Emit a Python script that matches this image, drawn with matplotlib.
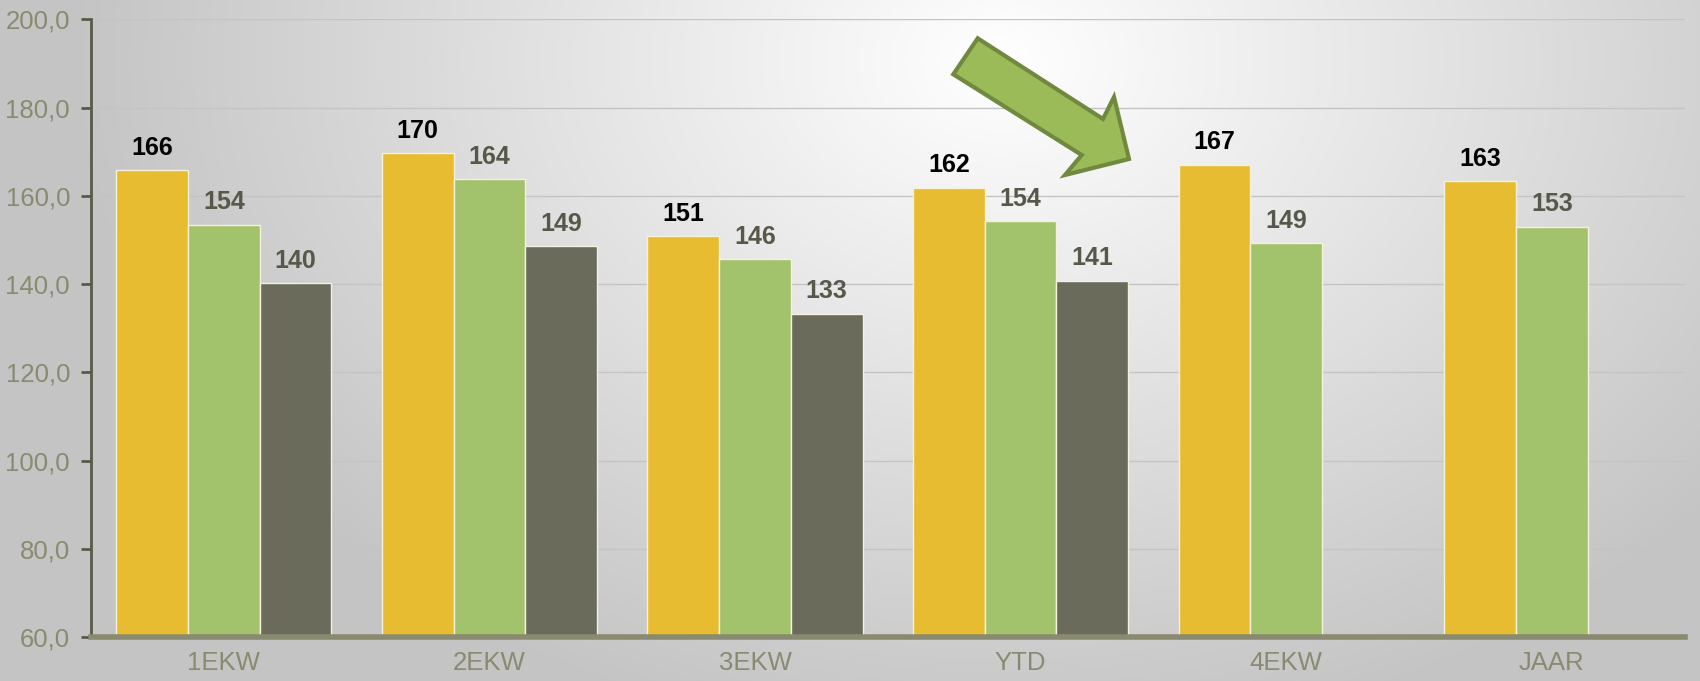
import numpy as np
import matplotlib.pyplot as plt
from matplotlib.patches import Polygon

plt.rcParams['font.family'] = ['Liberation Sans', 'DejaVu Sans']

categories = ['1EKW', '2EKW', '3EKW', 'YTD', '4EKW', 'JAAR']
series_a = [165.8, 169.7, 150.8, 161.9, 167.0, 163.3]
series_b = [153.5, 163.8, 145.6, 154.2, 149.3, 153.0]
series_c = [140.2, 148.6, 133.3, 140.7, None, None]
yticks = [60, 80, 100, 120, 140, 160, 180, 200]
ytick_labels = ['60,0', '80,0', '100,0', '120,0', '140,0', '160,0', '180,0', '200,0']

colors = ['#E8BC30', '#A3C26C', '#6B6B5C']
label_colors = ['#000000', '#58584A', '#58584A']

fig = plt.figure(figsize=(17, 6.81), dpi=100)

# radial gradient background
bg = fig.add_axes([0, 0, 1, 1], zorder=-10)
yy, xx = np.mgrid[0:681, 0:1700]
r = np.sqrt(((xx - 1000) / 1050.0) ** 2 + ((yy - 60) / 780.0) ** 2)
val = np.clip(1.0 - 0.26 * r, 0.77, 1.0)
bg.imshow(np.dstack([val, val, val]), aspect='auto', extent=[0, 1, 0, 1])
bg.axis('off')

ax = fig.add_axes([0.0535, 0.0646, 0.9375, 0.9068])
ax.set_facecolor('none')

x = np.arange(len(categories))
w = 0.27
for i, (vals, col, lc) in enumerate(zip([series_a, series_b, series_c], colors, label_colors)):
    for xi, v in zip(x, vals):
        if v is None:
            continue
        xp = xi + (i - 1) * w
        ax.bar(xp, v - 60, bottom=60, width=w, color=col, edgecolor='#F4F1DC',
               linewidth=1.0, zorder=3)
        ax.text(xp, v + 2.4, str(int(round(v))), ha='center', va='bottom',
                fontsize=18, fontweight='bold', color=lc, zorder=4)

ax.set_xlim(-0.5, 5.5)
ax.set_ylim(60, 200)
ax.set_yticks(yticks)
ax.set_yticklabels(ytick_labels)
ax.set_xticks(x)
ax.set_xticklabels(categories)
ax.tick_params(axis='y', colors='#5A5A48', labelcolor='#8A8A70', labelsize=18.5,
               length=7, width=2, direction='out', pad=8)
ax.tick_params(axis='x', length=0, labelcolor='#8A8A70', labelsize=18.5, pad=10)
ax.grid(axis='y', color='#C4C4C4', linewidth=1.0, zorder=0)
for s in ['top', 'right']:
    ax.spines[s].set_visible(False)
ax.spines['left'].set_color('#5A5A48')
ax.spines['left'].set_linewidth(2)
ax.spines['bottom'].set_color('#8A8A70')
ax.spines['bottom'].set_linewidth(4)
ax.spines['bottom'].set_zorder(5)

# green arrow shape (figure pixel coords converted to fractions)
arrow_px = [(977.7, 38.3), (1103, 119), (1114, 97), (1129, 159),
            (1065, 175), (1081.7, 155), (953.3, 74.3)]
arrow_fr = [(px / 1700.0, 1 - py / 681.0) for px, py in arrow_px]
fig.patches.append(Polygon(arrow_fr, closed=True, transform=fig.transFigure,
                           facecolor='#9BBB59', edgecolor='#71893F', linewidth=3,
                           zorder=10))

fig.savefig('out.png', dpi=100)
